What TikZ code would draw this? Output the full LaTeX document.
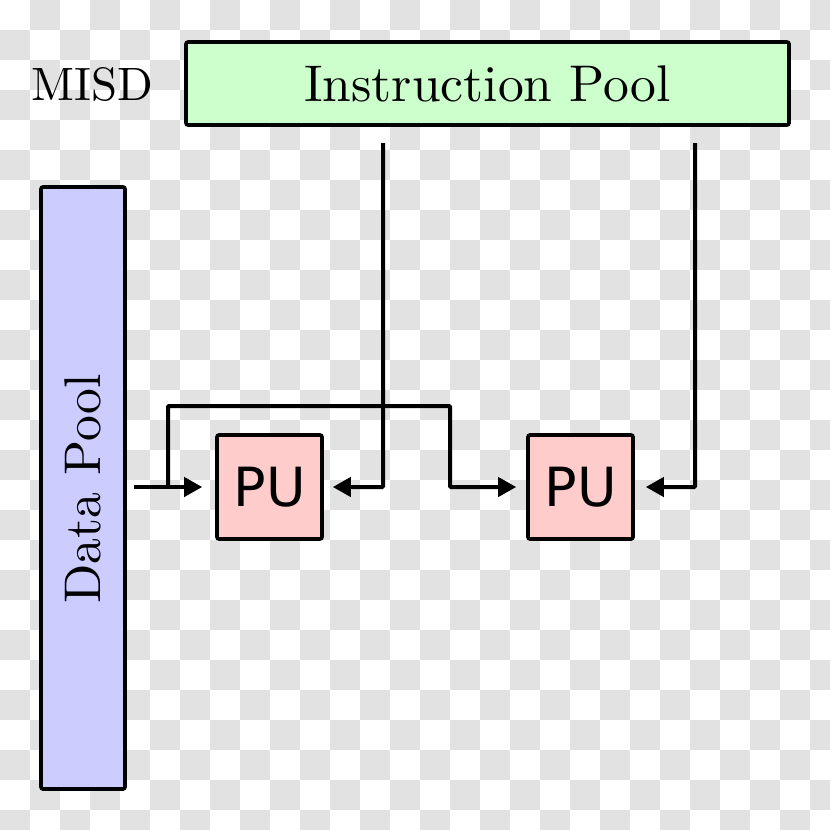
\documentclass[tikz,border=0pt]{standalone}
\usepackage{fontspec}
\setmainfont{lmroman10-regular}[Extension=.otf]
\newfontfamily\pufont{DejaVu Sans}
\usetikzlibrary{arrows.meta}
\definecolor{checker}{RGB}{226,226,226}
\definecolor{ipgreen}{RGB}{204,255,204}
\definecolor{dpblue}{RGB}{204,204,255}
\definecolor{pupink}{RGB}{255,204,204}
\tikzset{
  box/.style={draw=black, line width=1.8pt, rounded corners=1pt, inner sep=0pt},
  serifbig/.style={font=\fontsize{25.8}{30}\selectfont},
  pubox/.style={box, fill=pupink, minimum width=52.5pt, minimum height=52pt, font=\pufont\fontsize{27}{30}\selectfont},
  conn/.style={draw=black, line width=2pt, -{Triangle[length=9pt,width=9.5pt]}}
}
\begin{document}
\begin{tikzpicture}[x=0.5pt,y=-0.5pt]
\useasboundingbox (0,0) rectangle (830,830);
\fill[white] (0,0) rectangle (830,830);
\begin{scope}
\clip (0,0) rectangle (830,830);
\foreach \i in {0,...,27}{
  \foreach \j in {0,...,27}{
    \pgfmathtruncatemacro\s{mod(\i+\j,2)}
    \ifnum\s=1 \fill[checker] (\i*30,\j*30) rectangle ++(30,30); \fi
  }
}
\end{scope}
% pools
\node[box, fill=ipgreen, minimum width=301.5pt, minimum height=41.5pt, serifbig] (ip) at (487.5,83.5) {Instruction Pool};
\node[font=\fontsize{23.4}{28}\selectfont] (misd) at (92.5,85) {MISD};
\node[box, fill=dpblue, minimum width=42pt, minimum height=301pt] (dp) at (83,488) {};
\node[serifbig, rotate=90] (dptext) at (83,489) {Data Pool};
% processing units
\node[pubox] (pu1) at (269.5,487) {PU};
\node[pubox] (pu2) at (580.5,487) {PU};
% connector points
\coordinate (din) at (134,487);
\coordinate (fb) at (168,487);
\coordinate (fbtop) at (450,406);
\coordinate (i1) at (383,143);
\coordinate (i2) at (695,143);
% connectors
\draw[conn, shorten >=6.5pt] (din) -- (pu1.west);
\draw[conn, shorten >=5pt, rounded corners=0.5pt] (fb) |- (fbtop) |- (pu2.west);
\draw[conn, shorten >=4.5pt, rounded corners=0.5pt] (i1) |- (pu1.east);
\draw[conn, shorten >=5.5pt, rounded corners=0.5pt] (i2) |- (pu2.east);
\end{tikzpicture}
\end{document}
